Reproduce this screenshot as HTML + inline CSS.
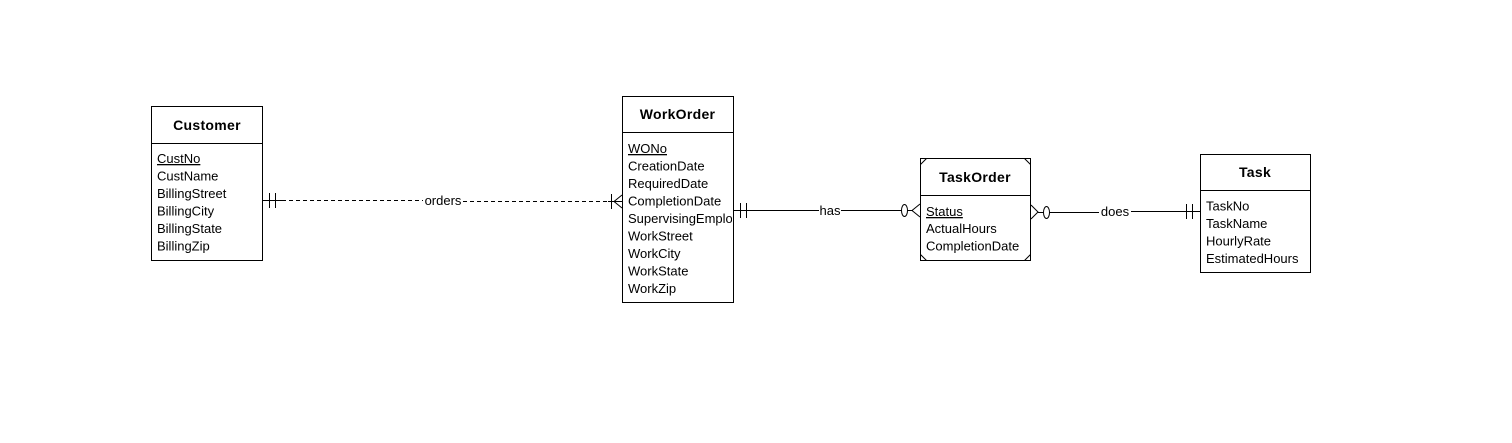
<!DOCTYPE html>
<html><head><meta charset="utf-8"><style>
html,body{margin:0;padding:0;background:#fff;}
svg{display:block;}
text{font-family:"Liberation Sans",Arial,sans-serif;font-size:13px;fill:#000;}
.h{font-weight:bold;font-size:14px;letter-spacing:0.3px;}
</style></head><body>
<svg width="1512" height="443" viewBox="0 0 1512 443" xmlns="http://www.w3.org/2000/svg">
<defs><clipPath id="wc"><rect x="622" y="96" width="110" height="206"/></clipPath></defs>
<g fill="none" stroke="#000" stroke-width="1">
<rect x="151.5" y="106.5" width="111" height="154"/>
<line x1="151.5" y1="143.5" x2="262.5" y2="143.5"/>
<rect x="622.5" y="96.5" width="111" height="206"/>
<line x1="622.5" y1="132.5" x2="733.5" y2="132.5"/>
<rect x="920.5" y="158.5" width="110" height="102"/>
<line x1="920.5" y1="195.5" x2="1030.5" y2="195.5"/>
<path d="M920.5 164.5 L926.5 158.5 M1024.5 158.5 L1030.5 164.5 M920.5 254.5 L926.5 260.5 M1024.5 260.5 L1030.5 254.5"/>
<rect x="1200.5" y="154.5" width="110" height="118"/>
<line x1="1200.5" y1="190.5" x2="1310.5" y2="190.5"/>
<!-- orders -->
<line x1="262.5" y1="200.5" x2="282" y2="200.5"/>
<line x1="282" y1="200.5" x2="423" y2="200.5" stroke-dasharray="4,3"/>
<line x1="463" y1="201.5" x2="608" y2="201.5" stroke-dasharray="4,3"/>
<line x1="608" y1="201.5" x2="622" y2="201.5"/>
<line x1="269.5" y1="193" x2="269.5" y2="208"/>
<line x1="275.5" y1="193" x2="275.5" y2="208"/>
<line x1="611.5" y1="194" x2="611.5" y2="209"/>
<path d="M622 195 L614 201.5 L622 208"/>
<!-- has -->
<line x1="733.5" y1="210.5" x2="819" y2="210.5"/>
<line x1="841" y1="210.5" x2="901.5" y2="210.5"/>
<line x1="740.5" y1="203" x2="740.5" y2="218"/>
<line x1="746.5" y1="203" x2="746.5" y2="218"/>
<ellipse cx="904.5" cy="210.5" rx="3" ry="6"/>
<line x1="907.5" y1="210.5" x2="913" y2="210.5"/>
<path d="M920 204 L912 210.5 L920 217"/>
<!-- does -->
<path d="M1031 205 L1038 212 L1031 219"/>
<line x1="1038" y1="212.5" x2="1043.5" y2="212.5"/>
<ellipse cx="1046.5" cy="212.5" rx="3" ry="6"/>
<line x1="1049.5" y1="212.5" x2="1099" y2="212.5"/>
<line x1="1131" y1="211.5" x2="1200" y2="211.5"/>
<line x1="1186.5" y1="204" x2="1186.5" y2="219"/>
<line x1="1192.5" y1="204" x2="1192.5" y2="219"/>
</g>
<text x="443" y="205" text-anchor="middle">orders</text>
<text x="830" y="215" text-anchor="middle">has</text>
<text x="1115" y="216" text-anchor="middle">does</text>

<text class="h" x="207" y="130" text-anchor="middle">Customer</text>
<text x="157" y="163" text-decoration="underline">CustNo</text>
<text x="157" y="180.5">CustName</text>
<text x="157" y="198">BillingStreet</text>
<text x="157" y="215.5">BillingCity</text>
<text x="157" y="233">BillingState</text>
<text x="157" y="250.5">BillingZip</text>

<text class="h" x="677.5" y="119" text-anchor="middle">WorkOrder</text>
<g clip-path="url(#wc)">
<text x="628" y="153" text-decoration="underline">WONo</text>
<text x="628" y="170.5">CreationDate</text>
<text x="628" y="188">RequiredDate</text>
<text x="628" y="205.5">CompletionDate</text>
<text x="628" y="223">SupervisingEmployee</text>
<text x="628" y="240.5">WorkStreet</text>
<text x="628" y="258">WorkCity</text>
<text x="628" y="275.5">WorkState</text>
<text x="628" y="293">WorkZip</text>
</g>

<text class="h" x="975" y="182" text-anchor="middle">TaskOrder</text>
<text x="926" y="216" text-decoration="underline">Status</text>
<text x="926" y="233">ActualHours</text>
<text x="926" y="250.5">CompletionDate</text>

<text class="h" x="1255" y="177" text-anchor="middle">Task</text>
<text x="1206" y="210.5">TaskNo</text>
<text x="1206" y="228">TaskName</text>
<text x="1206" y="245.5">HourlyRate</text>
<text x="1206" y="263">EstimatedHours</text>
</svg>
</body></html>
